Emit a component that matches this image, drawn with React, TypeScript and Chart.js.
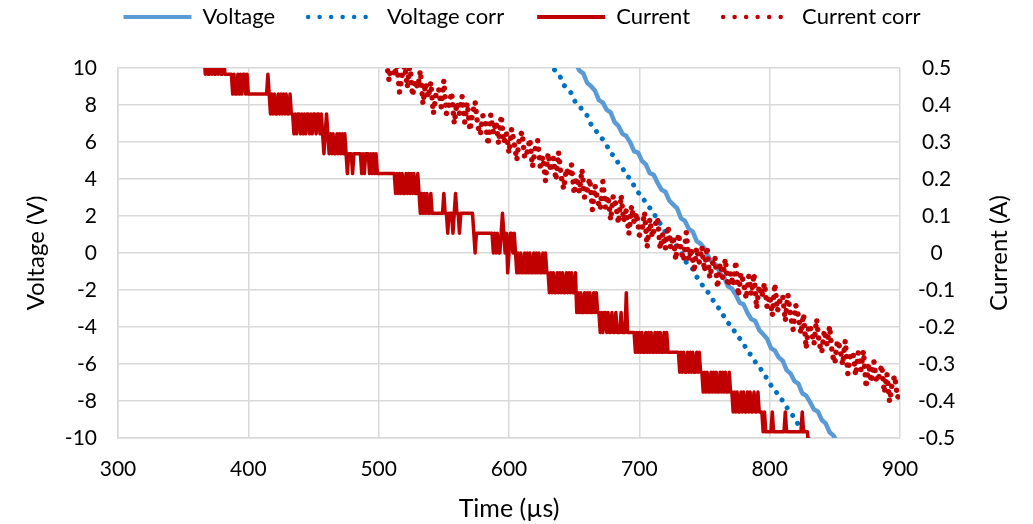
import React, { useEffect, useRef } from 'react';
import { Chart, registerables } from 'chart.js';

Chart.register(...registerables);

// ---- axes ----
const timeRange = [300, 900];
const timeStep = 100;
const voltageRange = [-10, 10];
const voltageStep = 2;
const currentRange = [-0.5, 0.5];
const currentStep = 0.1;

const timeTitle = 'Time (µs)';
const voltageTitle = 'Voltage (V)';
const currentTitle = 'Current (A)';

const seriesLabels = ['Voltage', 'Voltage corr', 'Current', 'Current corr'];

// ---- Current: quantised ADC counts (1 count = 0.0537 A), one sample per µs from 364 µs ----
const currentStartUs = 364;
const currentStepUs = 1;
const currentLsbA = 0.0537;
const currentCounts = [
  10, 10, 10, 9, 10, 9, 9, 10, 9, 10,
  9, 9, 10, 9, 10, 9, 9, 10, 9, 9,
  9, 9, 9, 9, 8, 9, 8, 8, 9, 8,
  9, 8, 9, 9, 8, 9, 8, 8, 8, 8,
  8, 8, 8, 8, 8, 8, 8, 8, 8, 8,
  8, 9, 8, 7, 8, 7, 8, 7, 7, 8,
  7, 8, 7, 8, 7, 8, 7, 7, 8, 7,
  7, 6, 7, 6, 7, 7, 6, 7, 6, 7,
  6, 7, 7, 6, 7, 6, 7, 7, 6, 7,
  7, 6, 7, 6, 5, 6, 7, 6, 5, 6,
  5, 6, 5, 5, 6, 5, 6, 5, 6, 5,
  6, 5, 4, 5, 5, 5, 4, 5, 5, 5,
  5, 5, 5, 4, 5, 4, 5, 5, 5, 4,
  5, 4, 5, 4, 5, 4, 4, 4, 4, 4,
  4, 4, 4, 4, 4, 4, 4, 4, 4, 3,
  4, 3, 4, 3, 4, 3, 3, 4, 3, 4,
  3, 4, 3, 4, 3, 3, 4, 3, 2, 3,
  2, 3, 2, 3, 2, 2, 3, 2, 2, 2,
  2, 2, 2, 2, 2, 2, 3, 2, 2, 1,
  2, 2, 2, 1, 2, 3, 2, 2, 1, 2,
  2, 2, 2, 2, 2, 2, 2, 2, 2, 1,
  0, 1, 1, 1, 1, 1, 1, 1, 1, 1,
  1, 1, 1, 1, 0, 1, 0, 1, 0, 0,
  1, 2, 1, 0, 1, -1, 0, 1, 1, 0,
  1, 0, -1, 0, -1, 0, -1, -1, 0, -1,
  0, -1, 0, -1, -1, 0, -1, 0, -1, 0,
  -1, -1, 0, -1, 0, -1, -1, -2, -1, -2,
  -1, -2, -2, -1, -2, -1, -2, -1, -2, -2,
  -1, -2, -1, -2, -1, -2, -2, -1, -3, -2,
  -3, -2, -3, -3, -2, -3, -2, -3, -2, -3,
  -3, -2, -3, -2, -3, -3, -4, -3, -4, -3,
  -3, -4, -3, -4, -4, -3, -4, -4, -3, -4,
  -4, -4, -3, -4, -4, -4, -2, -4, -4, -4,
  -4, -4, -4, -5, -4, -5, -4, -5, -4, -5,
  -5, -4, -5, -4, -5, -4, -5, -5, -4, -5,
  -4, -5, -4, -5, -5, -4, -5, -4, -5, -5,
  -5, -5, -5, -5, -5, -5, -5, -6, -5, -6,
  -5, -6, -6, -5, -6, -5, -6, -5, -6, -6,
  -5, -6, -5, -6, -6, -7, -6, -7, -6, -7,
  -7, -6, -7, -6, -7, -6, -7, -7, -6, -7,
  -6, -7, -6, -7, -7, -6, -7, -7, -8, -7,
  -8, -7, -8, -8, -7, -8, -7, -8, -8, -7,
  -8, -7, -8, -8, -7, -8, -8, -7, -8, -8,
  -8, -9, -8, -9, -9, -9, -9, -9, -8, -9,
  -9, -9, -9, -9, -9, -9, -9, -9, -8, -9,
  -9, -9, -9, -9, -9, -9, -9, -9, -9, -9,
  -9, -8, -9, -9, -9, -9, -10,
];

// ---- Voltage, sampled every 3 µs from 645 µs ----
const voltageStartUs = 645;
const voltageStepUs = 3;
const voltageV = [
  10.86, 10.43, 10.3, 9.86, 9.71, 9.19, 9.01, 8.77, 8.26, 8.13,
  7.74, 7.6, 7.07, 6.87, 6.44, 6.32, 5.98, 5.5, 5.43, 4.98,
  4.79, 4.32, 4.23, 3.79, 3.42, 3.31, 2.83, 2.62, 2.41, 1.87,
  1.73, 1.3, 1.16, 0.64, 0.5, 0.25, -0.2, -0.55, -0.64, -1.1,
  -1.3, -1.8, -1.92, -2.26, -2.69, -2.78, -3.24, -3.58, -3.68, -4.17,
  -4.39, -4.63, -5.14, -5.28, -5.65, -5.82, -6.33, -6.51, -6.92, -7.06,
  -7.58, -7.71, -8.06, -8.46, -8.57, -9.03, -9.21, -9.69, -9.87, -10.26,
  -10.46,
];

// ---- Voltage corr, sampled every 3 µs from 627 µs ----
const voltageCorrStartUs = 627;
const voltageCorrStepUs = 3;
const voltageCorrV = [
  10.74, 10.33, 10.16, 9.75, 9.57, 9.08, 8.87, 8.62, 8.14, 7.98,
  7.61, 7.43, 6.94, 6.73, 6.31, 6.15, 5.82, 5.38, 5.25, 4.83,
  4.61, 4.17, 4.05, 3.62, 3.27, 3.12, 2.67, 2.44, 2.2, 1.71,
  1.53, 1.12, 0.95, 0.47, 0.29, 0.04, -0.39, -0.73, -0.86, -1.29,
  -1.53, -1.98, -2.14, -2.48, -2.88, -3.02, -3.45, -3.78, -3.93, -4.39,
  -4.62, -4.88, -5.35, -5.52, -5.89, -6.08, -6.56, -6.76, -7.15, -7.33,
  -7.81, -7.97, -8.32, -8.69, -8.85, -9.29, -9.49, -9.94, -10.15, -10.52,
];

// ---- Current corr, sampled every 2 µs from 506 µs ----
const currentCorrStartUs = 506;
const currentCorrStepUs = 2;
const currentCorrA = [
  0.515, 0.466, 0.532, 0.478, 0.509, 0.435, 0.481, 0.507, 0.448, 0.514,
  0.425, 0.466, 0.447, 0.493, 0.403, 0.459, 0.42, 0.461, 0.377, 0.428,
  0.444, 0.395, 0.466, 0.377, 0.403, 0.434, 0.35, 0.406, 0.377, 0.423,
  0.354, 0.405, 0.331, 0.377, 0.408, 0.344, 0.32, 0.371, 0.352, 0.292,
  0.373, 0.324, 0.355, 0.296, 0.372, 0.298, 0.324, 0.27, 0.335, 0.296,
  0.251, 0.311, 0.327, 0.257, 0.273, 0.308, 0.233, 0.279, 0.304, 0.234,
  0.26, 0.195, 0.27, 0.221, 0.256, 0.197, 0.272, 0.207, 0.173, 0.228,
  0.208, 0.239, 0.159, 0.204, 0.165, 0.225, 0.15, 0.171, 0.201, 0.117,
  0.182, 0.142, 0.118, 0.193, 0.123, 0.154, 0.089, 0.154, 0.13, 0.08,
  0.156, 0.086, 0.116, 0.052, 0.127, 0.082, 0.108, 0.048, 0.064, 0.11,
  0.016, 0.092, 0.043, 0.074, 0.095, 0.011, 0.052, 0.012, 0.073, 0.014,
  0.045, -0.019, 0.052, 0.008, -0.021, 0.055, -0.019, 0.012, -0.052, 0.014,
  -0.025, 0.016, -0.049, 0.017, -0.067, -0.031, -0.01, -0.094, -0.028, -0.067,
  -0.016, -0.09, -0.054, -0.088, -0.022, -0.116, -0.055, -0.079, -0.124, -0.063,
  -0.112, -0.056, -0.15, -0.089, -0.118, -0.082, -0.146, -0.115, -0.169, -0.083,
  -0.157, -0.126, -0.115, -0.184, -0.113, -0.168, -0.207, -0.141, -0.17, -0.218,
  -0.165, -0.258, -0.194, -0.208, -0.246, -0.179, -0.244, -0.269, -0.209, -0.248,
  -0.198, -0.273, -0.298, -0.237, -0.257, -0.302, -0.237, -0.326, -0.271, -0.271,
  -0.331, -0.27, -0.315, -0.265, -0.364, -0.299, -0.349, -0.294, -0.348, -0.333,
  -0.303, -0.378, -0.327, -0.402, -0.352, -0.332, -0.391, -0.381, -0.336,
];

const FONT = 'Lato';
const GRID = '#D9D9D9';

function samples(startUs: number, stepUs: number, values: number[]) {
  return values.map((v, i) => ({ x: startUs + i * stepUs, y: v }));
}

const rightTitlePlugin = {
  id: 'rightTitle',
  afterDraw(chart: any) {
    const s = chart.scales.yI;
    const ctx = chart.ctx;
    ctx.save();
    ctx.translate(s.right - 34, (s.top + s.bottom) / 2);
    ctx.rotate(-Math.PI / 2);
    ctx.font = `24px ${FONT}`;
    ctx.fillStyle = '#000';
    ctx.textAlign = 'center';
    ctx.textBaseline = 'middle';
    ctx.fillText(currentTitle, 0, 0);
    ctx.restore();
  },
};

export default function App() {
  const ref = useRef<HTMLCanvasElement>(null);

  useEffect(() => {
    if (!ref.current) return;
    const currentPoints = currentCounts.map((c, i) => ({
      x: currentStartUs + i * currentStepUs,
      y: c * currentLsbA,
    }));
    const chart = new Chart(ref.current, {
      type: 'line',
      data: {
        datasets: [
          {
            label: seriesLabels[0],
            data: samples(voltageStartUs, voltageStepUs, voltageV),
            yAxisID: 'yV',
            borderColor: '#5B9BD5',
            borderWidth: 4.5,
            borderJoinStyle: 'round',
            pointRadius: 0,
            order: 4,
            clip: 0,
          },
          {
            label: seriesLabels[1],
            data: samples(voltageCorrStartUs, voltageCorrStepUs, voltageCorrV),
            yAxisID: 'yV',
            borderColor: '#0070C0',
            borderWidth: 5,
            borderDash: [0.01, 9.5],
            borderCapStyle: 'round',
            pointRadius: 0,
            order: 3,
            clip: 0,
          },
          {
            label: seriesLabels[2],
            data: currentPoints,
            yAxisID: 'yI',
            borderColor: '#C00000',
            borderWidth: 3.5,
            borderJoinStyle: 'round',
            pointRadius: 0,
            order: 2,
            clip: 0,
          },
          {
            label: seriesLabels[3],
            data: samples(currentCorrStartUs, currentCorrStepUs, currentCorrA),
            yAxisID: 'yI',
            borderColor: '#C00000',
            borderWidth: 5.5,
            borderDash: [0.01, 8.5],
            borderCapStyle: 'round',
            pointRadius: 0,
            order: 1,
            clip: 0,
          },
        ] as any,
      },
      options: {
        animation: false,
        responsive: false,
        events: [],
        layout: { padding: { top: -27, left: 11, right: 0, bottom: 0 } },
        plugins: {
          tooltip: { enabled: false },
          title: {
            display: true,
            text: '',
            weight: 500,
            padding: 0,
            font: { size: 30, lineHeight: 1 },
          } as any,
          legend: {
            display: true,
            position: 'top',
            labels: {
              usePointStyle: true,
              pointStyleWidth: 68,
              padding: 33,
              color: '#000',
              font: { family: FONT, size: 22 },
              generateLabels: (c: any) =>
                c.data.datasets.map((ds: any, i: number) => ({
                  text: ds.label,
                  strokeStyle: ds.borderColor,
                  fillStyle: ds.borderColor,
                  lineWidth: ds.borderDash ? 4.5 : 4,
                  lineDash: ds.borderDash ? [0.01, 11.5] : [],
                  lineCap: ds.borderDash ? 'round' : 'butt',
                  pointStyle: 'line',
                  hidden: false,
                  datasetIndex: i,
                  fontColor: '#000',
                })),
            },
          },
        },
        scales: {
          x: {
            type: 'linear',
            position: 'bottom',
            min: timeRange[0],
            max: timeRange[1],
            ticks: {
              stepSize: timeStep,
              color: '#000',
              font: { family: FONT, size: 21 },
              padding: 19,
              maxRotation: 0,
            },
            grid: { color: GRID, lineWidth: 1.5, drawTicks: false },
            border: { color: GRID, width: 1.5 },
            title: {
              display: true,
              text: timeTitle,
              color: '#000',
              font: { family: FONT, size: 25 },
              padding: { top: 0, bottom: 0 },
            },
            afterFit: (s: any) => {
              s.height = 86;
            },
          },
          yV: {
            type: 'linear',
            position: 'left',
            min: voltageRange[0],
            max: voltageRange[1],
            ticks: {
              stepSize: voltageStep,
              color: '#000',
              font: { family: FONT, size: 21 },
              padding: 21,
            },
            grid: { color: GRID, lineWidth: 1.5, drawTicks: false },
            border: { color: GRID, width: 1.5 },
            title: {
              display: true,
              text: voltageTitle,
              color: '#000',
              font: { family: FONT, size: 24 },
              padding: { top: 11, bottom: 0 },
            },
            afterFit: (s: any) => {
              s.width = 107;
            },
          },
          yI: {
            type: 'linear',
            position: 'right',
            min: currentRange[0],
            max: currentRange[1],
            ticks: {
              stepSize: currentStep,
              color: '#000',
              font: { family: FONT, size: 21 },
              padding: 18,
              crossAlign: 'center',
            },
            grid: { drawOnChartArea: false, drawTicks: false },
            border: { display: false },
            afterFit: (s: any) => {
              s.width = 133;
            },
          },
        },
      } as any,
      plugins: [rightTitlePlugin],
    });
    return () => chart.destroy();
  }, []);

  return (
    <div style={{ position: 'fixed', left: 0, top: 0, width: 1033, height: 524, background: '#fff' }}>
      <canvas ref={ref} width={1033} height={524} style={{ display: 'block' }} />
    </div>
  );
}
